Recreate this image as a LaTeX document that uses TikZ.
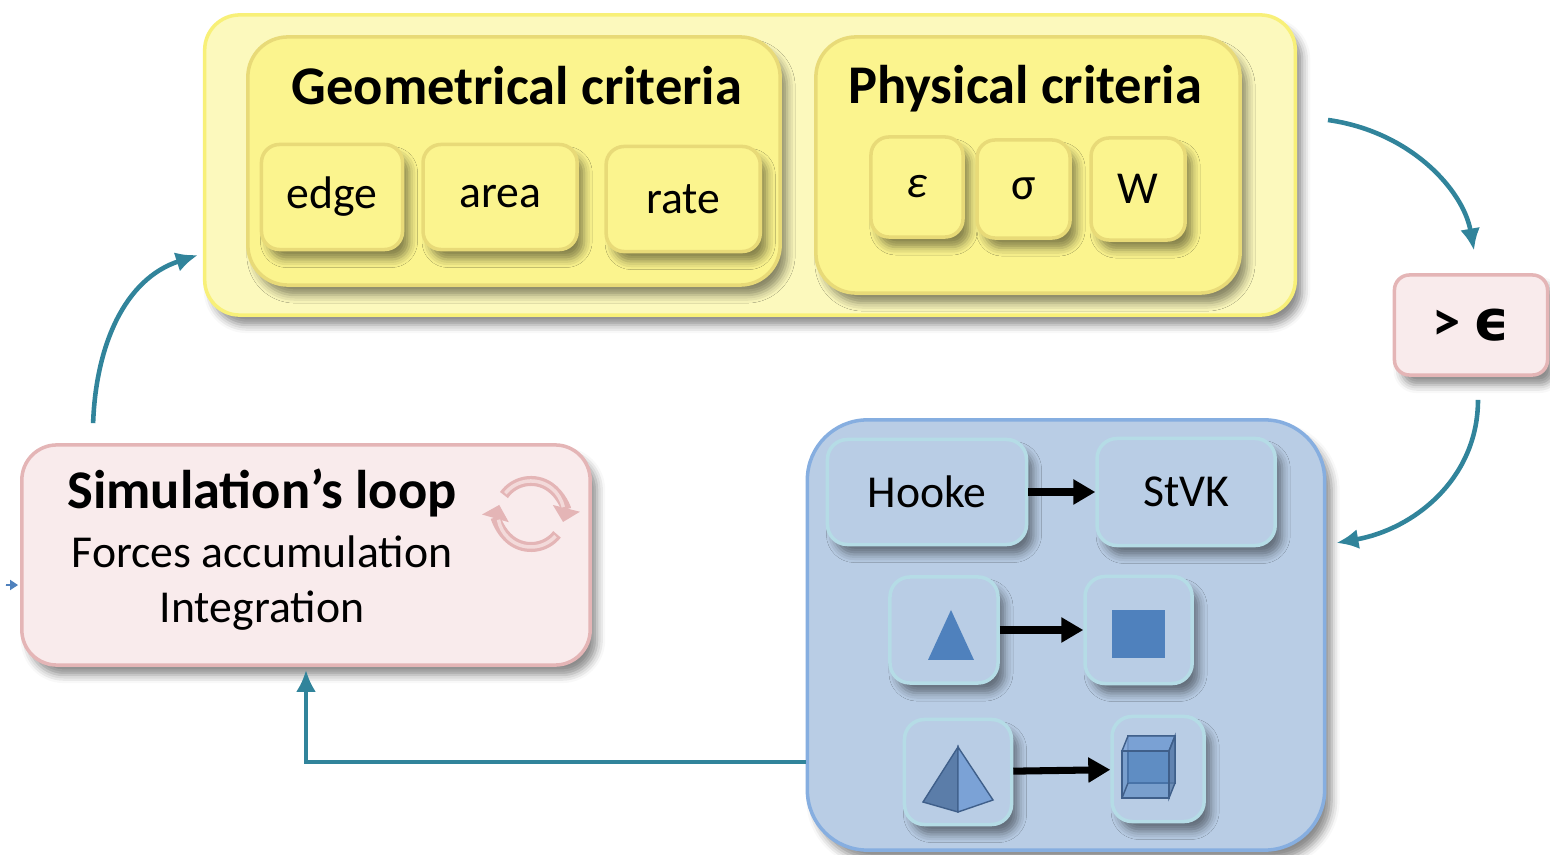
\documentclass[tikz,border=0pt]{standalone}
\usepackage{fontspec}
\setmainfont{Carlito}
\newfontfamily\greekfont{DejaVu Sans}
\usetikzlibrary{positioning,arrows.meta,shadows.blur}

\definecolor{critfill}{HTML}{FCF9BD}
\definecolor{critline}{HTML}{F8F078}
\definecolor{groupfill}{HTML}{FBF48E}
\definecolor{groupline}{HTML}{E8DA78}
\definecolor{loopfill}{HTML}{F9EBEC}
\definecolor{loopline}{HTML}{E4B5B6}
\definecolor{loopstripe}{HTML}{F3DADA}
\definecolor{mechfill}{HTML}{B9CDE5}
\definecolor{mechline}{HTML}{86AEE0}
\definecolor{cellline}{HTML}{B5DCE6}
\definecolor{shapefill}{HTML}{4F81BD}
\definecolor{shapedark}{HTML}{5B7DA9}
\definecolor{shapelight}{HTML}{7BA2D6}
\definecolor{shapeedge}{HTML}{3F5F8A}
\definecolor{flowcol}{HTML}{31849B}

\begin{document}
\begin{tikzpicture}[x=0.01cm,y=-0.01cm,on grid,
    font=\fontsize{13}{15.6}\selectfont,
    softshadow/.style={blur shadow={shadow xshift=0.7mm,shadow yshift=-1mm,
        shadow blur radius=0.8mm,shadow opacity=45}},
    titlefont/.style={font=\bfseries\fontsize{15.5}{18}\selectfont},
    panel/.style={draw=critline,fill=critfill,line width=1pt,rounded corners=0.35cm,softshadow},
    group/.style={draw=groupline,fill=groupfill,line width=1pt,rounded corners=0.4cm,softshadow},
    critbox/.style={draw=groupline,fill=groupfill,line width=1pt,rounded corners=0.18cm,
        softshadow,inner sep=0pt,minimum height=1.05cm},
    pinkbox/.style={draw=loopline,fill=loopfill,line width=1pt,softshadow,inner sep=0pt},
    mechpanel/.style={draw=mechline,fill=mechfill,line width=1pt,rounded corners=0.6cm,softshadow},
    cell/.style={draw=cellline,fill=mechfill,line width=1pt,rounded corners=0.2cm,
        softshadow,inner sep=0pt},
    conv/.style={draw=black,line width=2pt,-{Triangle[length=0.22cm,width=0.24cm]}},
    flow/.style={draw=flowcol,line width=1.3pt,-{Latex[length=0.22cm,width=0.2cm]}},
    feedarrow/.style={draw=shapefill,line width=0.5pt,-{Triangle[length=0.08cm,width=0.1cm]}},
    loopring/.style={draw=loopline,line width=0.1cm,-{Triangle[length=0.14cm,width=0.27cm]}},
    loopinner/.style={draw=loopstripe,line width=0.035cm}]

  \useasboundingbox (0,0) rectangle (1550,855);

  % refinement criteria
  \node[panel,minimum width=10.9cm,minimum height=3cm] (crit) at (750,165) {};

  \node[group,minimum width=5.32cm,minimum height=2.48cm] (geo) at (514,161) {};
  \node[titlefont] (geotitle) at (517,86) {Geometrical criteria};
  \node[critbox,minimum width=1.41cm] (g1) at (332,197) {\raisebox{-0.4ex}{edge}};
  \node[critbox,minimum width=1.54cm] (g2) [right=1.68cm of g1]  {area};
  \node[critbox,minimum width=1.54cm] (g3) [right=1.83cm of g2,yshift=-0.02cm] {rate};

  \node[group,minimum width=4.24cm,minimum height=2.56cm] (phys) at (1028,165) {};
  \node[titlefont] (phystitle) at (1025,89) {Physical criteria};
  \node[critbox,minimum width=0.92cm,minimum height=1.0cm]  (p1) at (917,187) {\itshape ε};
  \node[critbox,minimum width=0.93cm,minimum height=0.98cm] (p2) [right=1.065cm of p1,yshift=-0.02cm] {σ};
  \node[critbox,minimum width=0.94cm,minimum height=1.02cm] (p3) [right=1.145cm of p2] {W};

  % threshold test
  \node[pinkbox,minimum width=1.53cm,minimum height=1.0cm,rounded corners=0.15cm] (thr) at (1471,325)
       {\bfseries\fontsize{16}{18}\selectfont > {\greekfont ϵ}};

  % simulation loop
  \node[pinkbox,minimum width=5.68cm,minimum height=2.2cm,rounded corners=0.35cm] (sim) at (306,555) {};
  \node[titlefont] (simtitle) at (262,493) {Simulation’s loop};
  \node[align=center] (simtext) [below=0.9cm of simtitle] {Forces accumulation\\Integration};

  \coordinate (loop) at (531,514);
  \draw[loopring] (loop) ++(145:0.33cm) arc[start angle=145,end angle=-14,radius=0.33cm];
  \draw[loopring] (loop) ++(-38:0.33cm) arc[start angle=-38,end angle=-196,radius=0.33cm];
  \draw[loopinner] (loop) ++(141:0.33cm) arc[start angle=141,end angle=12,radius=0.33cm];
  \draw[loopinner] (loop) ++(-42:0.33cm) arc[start angle=-42,end angle=-170,radius=0.33cm];

  % model switching
  \node[mechpanel,minimum width=5.17cm,minimum height=4.3cm] (mech) at (1066,635) {};
  \node[cell,minimum width=1.99cm,minimum height=1.05cm] (hooke) at (927,492) {Hooke};
  \node[cell,minimum width=1.78cm,minimum height=1.07cm] (stvk) [right=2.59cm of hooke] {StVK};
  \node[cell,minimum width=1.08cm,minimum height=1.06cm] (tri) at (944,630) {};
  \node[cell,minimum width=1.07cm,minimum height=1.07cm] (quad) [right=1.945cm of tri] {};
  \node[cell,minimum width=1.07cm,minimum height=1.05cm] (tet) at (958,772) {};
  \node[cell,minimum width=0.92cm,minimum height=1.05cm] (hex) [right=2.0cm of tet,yshift=0.03cm] {};

  \path (hooke) edge[conv] (stvk)
        (tri)   edge[conv] (quad)
        (tet)   edge[conv] (hex);

  % element icons
  \fill[shapefill] (951,610) -- (974,660) -- (928,660) -- cycle;
  \fill[shapefill] (1112,610) rectangle (1165,658);

  \filldraw[draw=shapeedge,fill=shapedark,line width=0.4pt] (958,747) -- (923,802) -- (958,812) -- cycle;
  \filldraw[draw=shapeedge,fill=shapelight,line width=0.4pt] (958,747) -- (958,812) -- (993,800) -- cycle;

  \filldraw[draw=shapeedge,fill=shapefill,fill opacity=0.6,line width=0.4pt] (1128,736) rectangle (1175,783);
  \filldraw[draw=shapeedge,fill=shapelight,fill opacity=0.8,line width=0.4pt]
       (1122,751) -- (1128,736) -- (1175,736) -- (1169,751) -- cycle;
  \filldraw[draw=shapeedge,fill=shapedark,fill opacity=0.8,line width=0.4pt]
       (1169,751) -- (1175,736) -- (1175,783) -- (1169,798) -- cycle;
  \filldraw[draw=shapeedge,fill=shapefill,fill opacity=0.6,line width=0.4pt] (1122,751) rectangle (1169,798);
  \draw[shapeedge,line width=0.4pt] (1122,798) -- (1128,783);

  % loop connectors
  \coordinate (c1) at (1328,120);
  \coordinate (feed) at (6,585);
  \path (c1) edge[flow,out=-8,in=100,shorten >=0.23cm] ([xshift=0.07cm]thr.north)
        ([xshift=0.07cm,yshift=-0.23cm]thr.south) edge[flow,out=-90,in=10]
            ([yshift=0.92cm,xshift=0.1cm]mech.east)
        ([xshift=0.73cm,yshift=0.2cm]sim.north west) edge[flow,out=88,in=198]
            ([yshift=-0.9cm,xshift=-0.05cm]crit.west);
  \draw[flow] ([yshift=-1.27cm]mech.west) -| ([yshift=-0.03cm]sim.south);
  \path (feed) edge[feedarrow] ([yshift=-0.3cm,xshift=-0.02cm]sim.west);
\end{tikzpicture}
\end{document}
